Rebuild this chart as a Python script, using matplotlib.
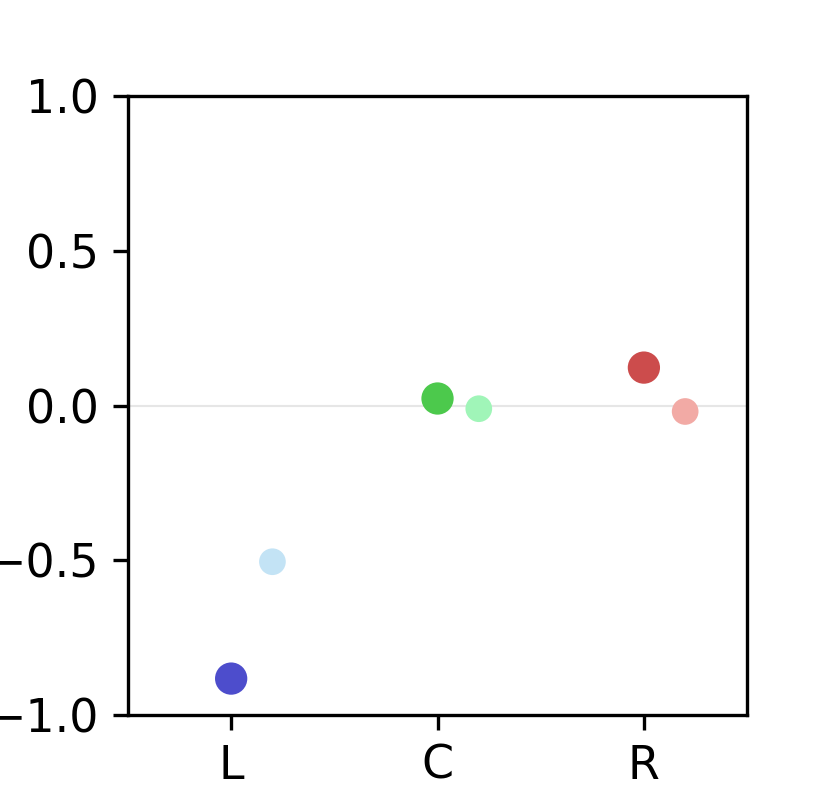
import numpy as np
import matplotlib.pyplot as plt

# 데이터
categories = ['L', 'C', 'R']
main_values = [-0.883, 0.023, 0.123]
side_values = [-0.505, -0.010, -0.019]
main_colors = ['#4d4dcc', '#4cc94c', '#cc4c4c']
side_colors = ['#c3e3f5', '#a0f5b8', '#f2aaa5']

plt.rcParams['font.size'] = 11

fig, ax = plt.subplots(figsize=(831 / 300, 804 / 300), dpi=300)
fig.subplots_adjust(left=0.154, right=0.899, bottom=0.111, top=0.880)

x = np.arange(len(categories))
ax.axhline(0, color='#e6e6e6', linewidth=0.5, zorder=0)
ax.scatter(x, main_values, s=60, c=main_colors, zorder=3, linewidths=0)
ax.scatter(x + 0.2, side_values, s=41, c=side_colors, zorder=3, linewidths=0)

ax.set_xlim(-0.5, 2.5)
ax.set_ylim(-1, 1)
ax.set_xticks(x)
ax.set_xticklabels(categories)
ax.set_yticks([-1.0, -0.5, 0.0, 0.5, 1.0])

fig.savefig('out.png', dpi=300)
